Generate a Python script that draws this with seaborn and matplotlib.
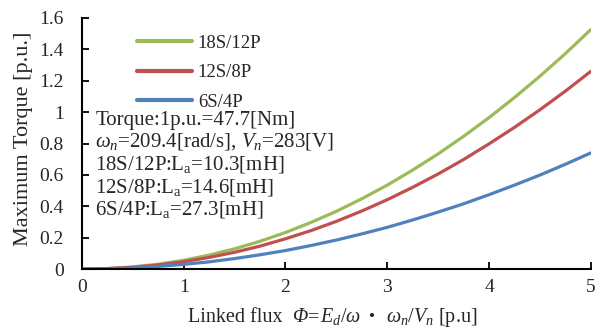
import matplotlib
matplotlib.use("Agg")
import matplotlib.pyplot as plt
import seaborn as sns
import pandas as pd
from matplotlib.ticker import FuncFormatter

# ---- data ----
flux = [0, 0.25, 0.5, 0.75, 1, 1.25, 1.5, 1.75, 2, 2.25, 2.5, 2.75, 3,
        3.25, 3.5, 3.75, 4, 4.25, 4.5, 4.75, 5]
torque_18s12p = [0, 0.003, 0.014, 0.031, 0.056, 0.089, 0.129, 0.177, 0.233,
                 0.297, 0.368, 0.448, 0.535, 0.631, 0.734, 0.846, 0.965,
                 1.093, 1.229, 1.373, 1.526]
torque_12s8p = [0, 0.003, 0.011, 0.026, 0.047, 0.074, 0.107, 0.146, 0.193,
                0.245, 0.304, 0.370, 0.442, 0.521, 0.606, 0.698, 0.798,
                0.903, 1.015, 1.134, 1.260]
torque_6s4p = [0, 0.002, 0.007, 0.017, 0.030, 0.046, 0.067, 0.091, 0.118,
               0.150, 0.185, 0.224, 0.266, 0.313, 0.363, 0.416, 0.474,
               0.535, 0.599, 0.668, 0.740]
series_names = ["18S/12P", "12S/8P", "6S/4P"]
colors = ["#9BBB59", "#C0504D", "#4F81BD"]
x_ticks = [0, 1, 2, 3, 4, 5]
y_ticks = [0, 0.2, 0.4, 0.6, 0.8, 1.0, 1.2, 1.4, 1.6]

rows = []
for name, vals in zip(series_names, [torque_18s12p, torque_12s8p, torque_6s4p]):
    for x, y in zip(flux, vals):
        rows.append({"flux": x, "torque": y, "machine": name})
df = pd.DataFrame(rows)

sns.set_style("ticks")
plt.rcParams["font.family"] = ["Liberation Serif", "Noto Sans CJK JP"]
plt.rcParams["mathtext.fontset"] = "custom"
plt.rcParams["mathtext.rm"] = "Liberation Serif"
plt.rcParams["mathtext.it"] = "Liberation Serif:italic"
plt.rcParams["mathtext.bf"] = "Liberation Serif:bold"

fig = plt.figure(figsize=(5.98, 3.33), dpi=100)
ax = fig.add_axes([0.137, 0.192, 0.851, 0.754])

sns.lineplot(data=df, x="flux", y="torque", hue="machine",
             hue_order=series_names, palette=colors, linewidth=2.3, ax=ax)

ax.set_xlim(0, 5)
ax.set_ylim(0, 1.6)
ax.set_xticks(x_ticks)
ax.set_yticks(y_ticks)
ax.yaxis.set_major_formatter(FuncFormatter(lambda v, p: f"{v:g}"))
ax.tick_params(direction="in", length=5, width=1.3, labelsize=14, color="black")
ax.tick_params(axis="x", pad=7)
ax.tick_params(axis="y", pad=13)
for s in ["top", "right"]:
    ax.spines[s].set_visible(False)
for s in ["left", "bottom"]:
    ax.spines[s].set_linewidth(1.5)
    ax.spines[s].set_color("black")

ax.set_ylabel("Maximum Torque [p.u.]", fontsize=16)
ax.yaxis.set_label_coords(-0.096, 0.52)
ax.set_xlabel("")

leg = ax.legend(loc="upper left", bbox_to_anchor=(0.075, 1.0), frameon=False,
                fontsize=13.5, handlelength=2.95, labelspacing=0.66,
                handletextpad=0.3)
for line in leg.get_lines():
    line.set_linewidth(3)

note = ("Torque:1p.u.=47.7[Nm]\n"
        r"$\omega_n$=209.4[rad/s], $V_n$=283[V]" "\n"
        r"18S/12P:L$_\mathrm{a}$=10.3[mH]" "\n"
        r"12S/8P:L$_\mathrm{a}$=14.6[mH]" "\n"
        r"6S/4P:L$_\mathrm{a}$=27.3[mH]")
ax.text(0.026, 0.63, note, transform=ax.transAxes, fontsize=15,
        va="top", ha="left", linespacing=1.1)

# ---- x-axis title, built from pieces laid side by side on one baseline ----
fs = 14.5
pieces = [
    ("Linked flux  ", dict()),
    ("Φ", dict(fontstyle="italic")),
    ("=", dict()),
    (r"$E_d$/$\omega$ ", dict()),
    ("・", dict(family=["Noto Sans CJK JP"])),
    (r" $\omega_n$/$V_n$ [p.u]", dict()),
]
W, H = fig.canvas.get_width_height()
center_px = 333
baseline_y = 0.033
fig.canvas.draw()
renderer = fig.canvas.get_renderer()
texts, widths = [], []
for s, kw in pieces:
    t = fig.text(0, baseline_y, s, fontsize=fs, va="baseline", ha="left", **kw)
    widths.append(t.get_window_extent(renderer).width)
    texts.append(t)
x_px = center_px - sum(widths) / 2
for t, w in zip(texts, widths):
    t.set_x(x_px / W)
    x_px += w

fig.savefig("out.png", dpi=100)
